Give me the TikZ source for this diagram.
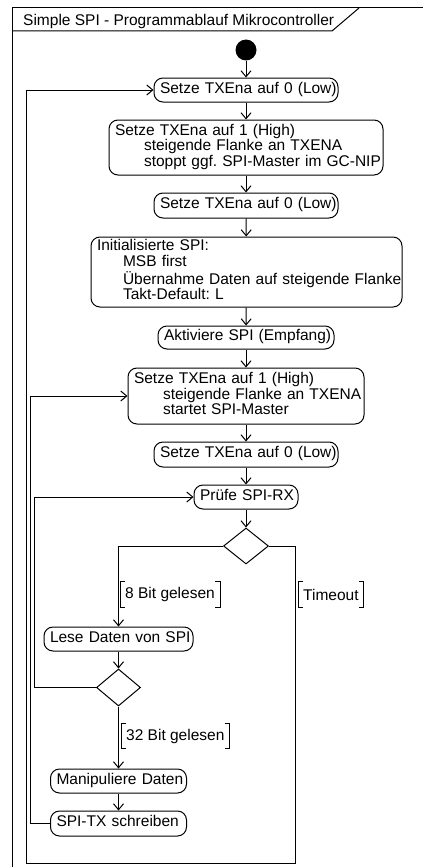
\documentclass[tikz,border=0pt]{standalone}
\usepackage{fontspec}
\setmainfont{Liberation Sans}
\usetikzlibrary{arrows.meta,shapes.geometric}
\newcommand{\mylines}[1]{\begin{tabular}{@{}l@{}}#1\end{tabular}}
\frenchspacing
\begin{document}
\frenchspacing
\begin{tikzpicture}[x=1pt,y=-1pt,
  font=\fontsize{15.5}{15}\selectfont,
  ln/.style={line width=1pt},
  arr/.style={ln,-{Straight Barb[length=6pt,width=10pt]}},
  act/.style={draw,ln,rounded corners=9pt,inner xsep=6pt,inner ysep=0pt,align=left},
  dec/.style={draw,ln,diamond,inner sep=0pt},
  guard/.style={inner xsep=5pt,inner ysep=0pt,minimum height=25pt,anchor=west},
  brk/.style={line width=0.8pt}]
\useasboundingbox (0,0) rectangle (423,867);
% frame
\draw[ln] (12,867) -- (12,8) -- (423,8);
\draw[ln] (12,31) -- (332,31) -- (359,8);
\node[anchor=base west,inner sep=0pt] (title) at (23,26) {Simple SPI - Programmablauf Mikrocontroller};
% nodes
\node[circle,fill,minimum size=21pt,inner sep=0pt] (start) at (246,50) {};
\node[act,text width=172pt,minimum height=24pt] (n1) at (246,90) {\mylines{Setze TXEna auf 0 (Low)}};
\node[act,text width=262pt,minimum height=55pt] (n2) at (246,147.5) {\mylines{Setze TXEna auf 1 (High)\\\hspace*{29pt}steigende Flanke an TXENA\\\hspace*{29pt}stoppt ggf.\ SPI-Master im GC-NIP}};
\node[act,text width=172pt,minimum height=25pt] (n3) at (246,205.5) {\mylines{Setze TXEna auf 0 (Low)}};
\node[act,text width=299pt,minimum height=70pt] (n4) at (246.5,272) {\mylines{Initialisierte SPI:\\\hspace*{26pt}MSB first\\\hspace*{26pt}Übernahme Daten auf steigende Flanke\\\hspace*{26pt}Takt-Default:\ L}};
\node[act,text width=164pt,minimum height=23pt] (n5) at (246,337.5) {\mylines{Aktiviere SPI (Empfang)}};
\node[act,text width=224pt,minimum height=56pt] (n6) at (246,396) {\mylines{Setze TXEna auf 1 (High)\\\hspace*{29pt}steigende Flanke an TXENA\\\hspace*{29pt}startet SPI-Master}};
\node[act,text width=172pt,minimum height=25pt] (n7) at (246,454.5) {\mylines{Setze TXEna auf 0 (Low)}};
\node[act,text width=92pt,minimum height=24pt] (rx) at (246,497) {\mylines{Prüfe SPI-RX}};
\node[dec,minimum width=45pt,minimum height=36pt] (d1) at (246,546) {};
\node[act,text width=137pt,minimum height=24pt] (lese) at (118.5,639) {\mylines{Lese Daten von SPI}};
\node[dec,minimum width=44pt,minimum height=37pt] (d2) at (118.5,687.5) {};
\node[act,text width=124pt,minimum height=24pt] (manip) at (118.5,781) {\mylines{Manipuliere Daten}};
\node[act,text width=124pt,minimum height=25pt] (tx) at (118.5,823.5) {\mylines{SPI-TX schreiben}};
% guards
\node[guard] (g8) at (120,594.5) {8 Bit gelesen};
\node[guard] (gt) at (298,594.5) {Timeout};
\node[guard] (g32) at (121,736) {32 Bit gelesen};
\foreach \g in {g8,gt,g32}{
  \draw[brk] ([xshift=5pt]\g.north west) -- (\g.north west) -- (\g.south west) -- ([xshift=5pt]\g.south west);
  \draw[brk] ([xshift=-5pt]\g.north east) -- (\g.north east) -- (\g.south east) -- ([xshift=-5pt]\g.south east);
}
% helper coordinates
\coordinate (c1) at (295,863);
\coordinate (c2) at (26,863);
\coordinate (c3) at (34,687.5);
\coordinate (c4) at (30,823.5);
% connectors
\draw[arr] (start) -- (n1);
\draw[arr] (n1) -- (n2);
\draw[arr] (n2) -- (n3);
\draw[arr] (n3) -- (n4);
\draw[arr] (n4) -- (n5);
\draw[arr] (n5) -- (n6);
\draw[arr] (n6) -- (n7);
\draw[arr] (n7) -- (rx);
\draw[arr] (rx) -- (d1);
\draw[arr] (d1.west) -| (lese.north);
\draw[arr] (lese) -- (d2);
\draw[arr] (d2) -- (manip);
\draw[arr] (manip) -- (tx);
\draw[arr] (d1.east) -| (c1) -- (c2) |- (n1.west);
\draw[arr] (d2.west) -- (c3) |- (rx.west);
\draw[arr] (tx.west) -- (c4) |- (n6.west);
\end{tikzpicture}
\end{document}
